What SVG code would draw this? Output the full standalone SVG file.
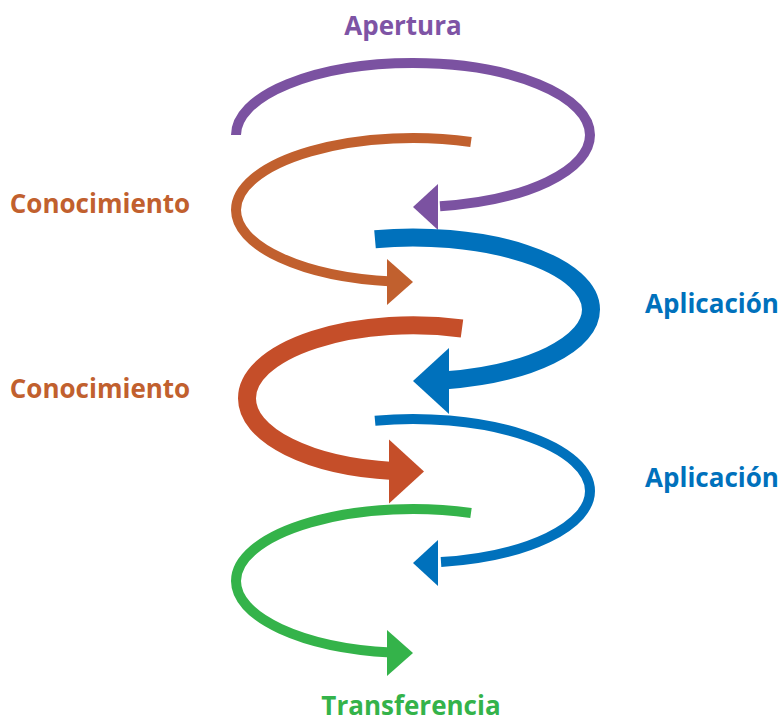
<svg xmlns="http://www.w3.org/2000/svg" xmlns:xlink="http://www.w3.org/1999/xlink" width="783" height="722" viewBox="0 0 783 722">
<style>
  .lbl { font-family: "Open Sans", "Liberation Sans", sans-serif; font-weight: 700; font-size: 26px; text-anchor: middle; }
  .arc { fill: none; stroke-linecap: butt; }
  .thin { stroke-width: 10; }
  .thick { stroke-width: 18; }
  .purple { stroke: #7B52A1; }
  .orange { stroke: #C1602E; }
  .red { stroke: #C54E29; }
  .blue { stroke: #0071BC; }
  .green { stroke: #34B34A; }
</style>
<defs>
  <path id="headThinL" d="M0 0 L25 -23 L25 23 Z"/>
  <path id="headThinR" d="M0 0 L-26 -23 L-26 23 Z"/>
  <path id="headThickL" d="M0 0 L36 -33 L36 33 Z"/>
  <path id="headThickR" d="M0 0 L-35 -32 L-35 32 Z"/>
</defs>
<rect width="783" height="722" fill="#ffffff"/>
<g id="connectors">
  <g id="c-apertura">
    <path class="arc thin purple" d="M236 135 A177 72 0 0 1 590 135 A177 72 0 0 1 440 206.2"/>
    <use xlink:href="#headThinL" x="413" y="207" fill="#7B52A1"/>
  </g>
  <g id="c-conocimiento1">
    <path class="arc thin orange" d="M471 142 A177 72 0 0 0 236 210 A177 72 0 0 0 392 281.5"/>
    <use xlink:href="#headThinR" x="413" y="282" fill="#C1602E"/>
  </g>
  <g id="c-aplicacion1">
    <path class="arc thick blue" d="M375 239.2 A178 72 0 0 1 591 309.5 A178 72 0 0 1 446 380.3"/>
    <use xlink:href="#headThickL" x="413" y="381" fill="#0071BC"/>
  </g>
  <g id="c-conocimiento2">
    <path class="arc thick red" d="M462 328.5 A166 73 0 0 0 247 398.5 A166 73 0 0 0 393 471"/>
    <use xlink:href="#headThickR" x="424" y="471.5" fill="#C54E29"/>
  </g>
  <g id="c-aplicacion2">
    <path class="arc thin blue" d="M375 420.7 A177 72 0 0 1 590 491 A177 72 0 0 1 441 562.1"/>
    <use xlink:href="#headThinL" x="413" y="563" fill="#0071BC"/>
  </g>
  <g id="c-transferencia">
    <path class="arc thin green" d="M471 513 A177 72 0 0 0 236 581 A177 72 0 0 0 391 652.5"/>
    <use xlink:href="#headThinR" x="413" y="653" fill="#34B34A"/>
  </g>
</g>
<g id="node-apertura"><text class="lbl" x="403" y="35" fill="#7E54A5">Apertura</text></g>
<g id="node-conocimiento1"><text class="lbl" x="100" y="213" fill="#C1602E">Conocimiento</text></g>
<g id="node-conocimiento2"><text class="lbl" x="100" y="398" fill="#C1602E">Conocimiento</text></g>
<g id="node-aplicacion1"><text class="lbl" x="712" y="313" fill="#0071BC">Aplicación</text></g>
<g id="node-aplicacion2"><text class="lbl" x="712" y="487" fill="#0071BC">Aplicación</text></g>
<g id="node-transferencia"><text class="lbl" x="411" y="715" fill="#34B34A">Transferencia</text></g>
</svg>
